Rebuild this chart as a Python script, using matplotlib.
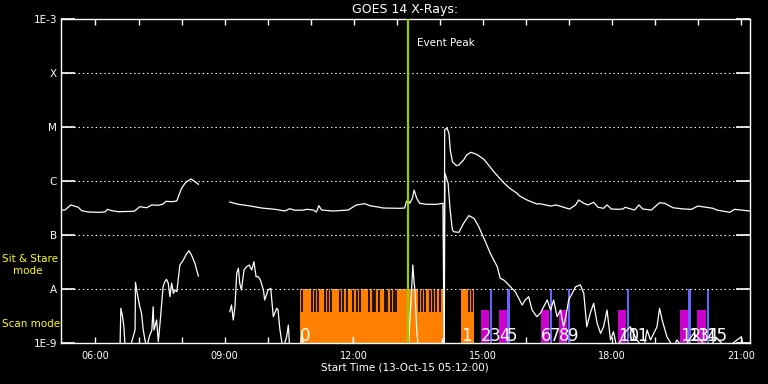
import numpy as np
import matplotlib
matplotlib.use("Agg")
import matplotlib.pyplot as plt
from matplotlib.ticker import FixedLocator, NullLocator

nan = np.nan

# ---- data (time in decimal hours UT, flux in W/m^2) ----
long_time = [5.20, 5.29, 5.43, 5.60, 5.68, 5.83, 6.07, 6.22, 6.28, 6.38, 6.53, 6.90,
             7.03, 7.19, 7.31, 7.46, 7.57, 7.64, 7.77, 7.89, 7.94, 8.00, 8.08, 8.15,
             8.22, 8.29, 8.39, 8.70,
             9.12, 9.32, 9.55, 9.86, 10.17, 10.40, 10.51, 10.63, 10.85, 10.90, 11.06,
             11.13, 11.19, 11.25, 11.52, 11.87, 12.06, 12.26, 12.37, 12.60, 12.68,
             13.07, 13.18, 13.22, 13.26, 13.30, 13.36, 13.40, 13.46, 13.53, 13.69,
             13.92, 14.07, 14.095, 14.11, 14.165, 14.21, 14.24, 14.29, 14.38, 14.44,
             14.46, 14.55, 14.62, 14.72, 14.85, 15.02, 15.16, 15.25, 15.39, 15.48,
             15.62, 15.79, 15.85, 16.02, 16.08, 16.25, 16.32, 16.57, 16.70, 16.95,
             17.01, 17.15, 17.22, 17.34, 17.44, 17.57, 17.67, 17.80, 17.88, 17.98,
             18.11, 18.25, 18.30, 18.52, 18.62, 18.71, 18.91, 19.10, 19.22, 19.41,
             19.66, 19.84, 19.99, 20.34, 20.43, 20.73, 20.84, 21.19]
long_flux = [2.9e-7, 2.9e-7, 3.6e-7, 3.26e-7, 2.82e-7, 2.67e-7, 2.63e-7, 2.67e-7, 2.99e-7,
             2.82e-7, 2.70e-7, 2.75e-7,
             3.34e-7, 3.2e-7, 3.6e-7, 3.55e-7, 3.75e-7, 4.21e-7, 4.14e-7, 4.26e-7,
             5.51e-7, 7.33e-7, 9.06e-7, 1.01e-6,
             1.09e-6, 1.0e-6, 8.7e-7, nan,
             4.08e-7, 3.7e-7, 3.49e-7, 3.16e-7, 2.99e-7, 2.78e-7, 3.07e-7, 2.87e-7,
             2.9e-7, 2.99e-7, 2.9e-7,
             2.67e-7, 3.49e-7, 2.9e-7, 2.78e-7, 2.9e-7, 3.6e-7, 3.8e-7, 3.49e-7,
             3.26e-7, 3.16e-7,
             3.12e-7, 3.16e-7, 4.14e-7, 4.45e-7, 3.86e-7, 4.79e-7, 6.81e-7, 4.79e-7,
             3.86e-7, 3.7e-7,
             3.7e-7, 3.86e-7, 8e-10, 9.0e-6, 9.46e-6, 7.64e-6, 3.75e-6, 2.27e-6,
             1.92e-6, 1.98e-6,
             2.07e-6, 2.45e-6, 3.03e-6, 3.40e-6, 3.12e-6, 2.52e-6, 1.84e-6, 1.49e-6,
             1.12e-6, 9.3e-7,
             7.33e-7, 5.92e-7, 5.28e-7, 4.45e-7, 4.26e-7, 3.75e-7, 3.8e-7, 3.44e-7,
             3.6e-7, 3.12e-7,
             3.03e-7, 3.6e-7, 4.45e-7, 3.86e-7, 3.6e-7, 4.03e-7, 3.26e-7, 3.12e-7,
             3.6e-7, 3.03e-7,
             2.99e-7, 3.03e-7, 3.26e-7, 2.9e-7, 3.6e-7, 3.03e-7, 2.9e-7, 3.96e-7,
             3.86e-7, 3.2e-7,
             3.03e-7, 2.99e-7, 3.44e-7, 3.12e-7, 2.9e-7, 2.63e-7, 2.99e-7, 2.78e-7]

short_time = [6.57, 6.59, 6.63, 6.66, 6.69, 6.80, 6.92, 6.93, 6.97, 7.03, 7.07, 7.11,
              7.15, 7.19, 7.25, 7.31, 7.34, 7.36, 7.42, 7.46, 7.50, 7.54, 7.57, 7.61,
              7.65, 7.69, 7.73, 7.77, 7.81, 7.85, 7.89, 7.92, 7.96, 8.04, 8.10, 8.17,
              8.23, 8.31, 8.35, 8.39, 8.70,
              9.12, 9.16, 9.20, 9.24, 9.28, 9.32, 9.35, 9.39, 9.45, 9.51, 9.57, 9.63,
              9.68, 9.73, 9.78, 9.83, 9.90, 9.93, 10.01, 10.07, 10.13, 10.21, 10.24,
              10.28, 10.32, 10.36, 10.44, 10.48, 10.51, 10.75, 10.80, 10.83, 11.98,
              11.99, 12.00, 13.27, 13.30, 13.33, 13.37, 13.40, 13.42, 13.46, 13.50,
              14.05, 14.06, 14.08, 14.10, 14.115, 14.19, 14.23, 14.27, 14.29, 14.32,
              14.44, 14.55, 14.67, 14.79, 14.90, 15.02, 15.17, 15.33, 15.40, 15.48,
              15.56, 15.67, 15.75, 15.83, 15.91, 15.98, 16.06, 16.14, 16.25, 16.33,
              16.41, 16.49, 16.57, 16.64, 16.72, 16.80, 16.87, 16.91, 16.99, 17.07,
              17.15, 17.26, 17.34, 17.41, 17.49, 17.57, 17.65, 17.73, 17.80, 17.88,
              17.96, 18.03, 18.11, 18.27, 18.42, 18.57, 18.73, 18.81, 18.89, 19.04,
              19.10, 19.16, 19.27, 19.43, 19.50, 19.66, 19.89, 20.05, 20.20, 20.43,
              20.66, 20.90, 21.00, 21.05, 21.19]
short_flux = [8e-10, 4.4e-9, 3.07e-9, 2.0e-9, 8e-10, 8e-10, 1.74e-9, 1.33e-8, 8.3e-9,
              4.7e-9, 3.55e-9, 1.74e-9,
              1.14e-9, 8e-10, 1.31e-9, 1.74e-9, 4.7e-9, 1.74e-9, 2.67e-9, 1.06e-9,
              2.32e-9, 5.82e-9, 1.10e-8, 1.36e-8,
              1.51e-8, 1.28e-8, 7.2e-9, 1.28e-8, 8.3e-9, 9.6e-9, 8.9e-9, 1.47e-8,
              2.78e-8, 3.44e-8, 4.26e-8, 5.12e-8,
              4.26e-8, 2.99e-8, 2.25e-8, 1.74e-8, nan,
              3.8e-9, 5.05e-9, 2.67e-9, 4.7e-9, 1.95e-8, 2.42e-8, 1.28e-8, 9.6e-9,
              2.25e-8, 2.59e-8, 2.78e-8, 2.25e-8,
              3.2e-8, 1.69e-8, 1.69e-8, 1.47e-8, 9.6e-9, 6.26e-9, 9.6e-9, 1.03e-8,
              3.07e-9, 4.4e-9, 4.08e-9,
              1.87e-9, 1.14e-9, 8e-10, 1.31e-9, 2.15e-9, 8e-10, 8e-10, 1.6e-9, 8e-10,
              8e-10,
              1.29e-9, 8e-10, 8e-10, 2.67e-9, 6.26e-9, 2.78e-8, 1.3e-8, 9.6e-9, 1.74e-9,
              8e-10,
              8e-10, 1.2e-9, 8e-10, 8e-10, 1.39e-6, 9.06e-7, 3.34e-7, 1.65e-7, 1.24e-7,
              1.15e-7,
              1.12e-7, 1.65e-7, 2.28e-7, 2.04e-7, 1.43e-7, 8.7e-8, 4.58e-8, 2.59e-8,
              1.58e-8, 1.47e-8,
              1.28e-8, 1.03e-8, 8.9e-9, 6.73e-9, 5.05e-9, 6.26e-9, 7.2e-9, 4.08e-9,
              3.07e-9, 3.55e-9,
              4.7e-9, 6.26e-9, 4.08e-9, 6.26e-9, 3.07e-9, 4.08e-9, 2.0e-9, 2.67e-9,
              6.26e-9, 8.3e-9,
              1.10e-8, 1.19e-8, 8.3e-9, 2.0e-9, 3.55e-9, 5.43e-9, 2.32e-9, 1.51e-9,
              2.0e-9, 4.08e-9,
              1.14e-9, 1.62e-9, 8e-10, 1.51e-9, 2.0e-9, 1.14e-9, 8e-10, 1.74e-9, 1.14e-9,
              2.0e-9,
              4.4e-9, 2.67e-9, 1.31e-9, 8e-10, 1.14e-9, 8e-10, 1.51e-9, 1.14e-9, 8e-10,
              1.22e-9,
              8e-10, 1.14e-9, 1.31e-9, 8e-10, 8e-10]

# Sit & Stare (orange) observing windows
stare_start = [10.75, 14.50]
stare_end = [14.065, 14.79]
# gaps inside the Sit & Stare windows
stare_gaps = [10.79, 11.03, 11.09, 11.16, 11.32, 11.40, 11.47, 11.69, 11.75, 11.84,
              11.98, 12.07, 12.14, 12.36, 12.44, 12.50, 12.58, 12.73, 12.76, 12.87,
              12.93, 12.99, 13.52, 13.59, 13.66, 13.76, 13.83, 13.90, 13.99, 14.67, 14.74]
# scan-mode rasters
scan_start = [14.95, 15.16, 15.37, 15.56, 16.34, 16.55, 16.76, 16.97, 18.13, 18.34,
              19.57, 19.77, 19.98, 20.19]
scan_end = [15.14, 15.22, 15.56, 15.63, 16.53, 16.61, 16.95, 17.03, 18.31, 18.40,
            19.76, 19.84, 20.17, 20.25]
scan_kind = ['m', 'b', 'm', 'b', 'm', 'b', 'm', 'b', 'm', 'b', 'm', 'b', 'm', 'b']

event_peak = 13.25
level_A = 1e-8
scan_top = 4.1e-9
gap_bottom = 3.7e-9
floor = 1e-9

ytick_vals = [1e-9, 1e-8, 1e-7, 1e-6, 1e-5, 1e-4, 1e-3]
ytick_labels = ['1E-9', 'A', 'B', 'C', 'M', 'X', '1E-3']
grid_levels = [1e-8, 1e-7, 1e-6, 1e-5, 1e-4]
xtick_major = [6, 9, 12, 15, 18, 21]
xtick_labels = ['06:00', '09:00', '12:00', '15:00', '18:00', '21:00']
xtick_minor = [6, 7, 8, 9, 10, 11, 12, 13, 14, 15, 16, 17, 18, 19, 20, 21]

ORANGE = '#ff8000'
MAGENTA = '#cc00cc'
BLUE = '#6464ff'
GREEN = '#99cc00'

fig = plt.figure(figsize=(7.68, 3.84), dpi=100, facecolor='black')
ax = fig.add_axes([61 / 768, 41 / 384, 689 / 768, 324 / 384])
ax.set_facecolor('black')
ax.set_yscale('log')
ax.set_xlim(5.2, 21.2)
ax.set_ylim(1e-9, 1e-3)

# orange sit & stare windows
for s, e in zip(stare_start, stare_end):
    ax.bar(s, level_A - floor, bottom=floor, width=e - s, align='edge',
           color=ORANGE, linewidth=0, zorder=2)
ax.vlines(stare_gaps, gap_bottom, level_A, color='black', linewidth=1.2, zorder=3)

# scan boxes
for s, e, k in zip(scan_start, scan_end, scan_kind):
    top = scan_top if k == 'm' else level_A
    ax.bar(s, top - floor, bottom=floor, width=e - s, align='edge',
           color=MAGENTA if k == 'm' else BLUE, linewidth=0, zorder=2)

# dotted grid
for lev in grid_levels:
    ax.axhline(lev, color='white', linewidth=0.8, linestyle=(0, (1.25, 2.6)), zorder=4)

# curves
ax.plot(long_time, long_flux, color='white', linewidth=0.9, zorder=5)
ax.plot(short_time, short_flux, color='white', linewidth=0.9, zorder=5)

# event peak
ax.axvline(event_peak, color=GREEN, linewidth=1.6, zorder=6)
ax.text(event_peak + 0.22, 3.6e-4, 'Event Peak', color='white', fontsize=7.5,
        va='center', ha='left', zorder=7)

# index labels
label_x = [stare_start[0], stare_start[1]] + scan_start
for i, x in enumerate(label_x):
    ax.text(x, 1.09e-9, str(i), color='white', fontsize=12, ha='left',
            va='baseline', zorder=7)

# axes styling
for sp in ax.spines.values():
    sp.set_color('white')
    sp.set_linewidth(1.0)
ax.yaxis.set_major_locator(FixedLocator(ytick_vals))
ax.yaxis.set_minor_locator(NullLocator())
ax.set_yticklabels(ytick_labels)
ax.xaxis.set_major_locator(FixedLocator(xtick_major))
ax.xaxis.set_minor_locator(FixedLocator(xtick_minor))
ax.set_xticklabels(xtick_labels)
ax.tick_params(axis='y', which='major', direction='in', length=10, width=1.2,
               colors='white', right=True, labelsize=7.5, pad=3)
ax.tick_params(axis='x', which='both', direction='in', length=4.5, width=1,
               colors='white', top=True, labelsize=7, pad=6)

fig.text(405 / 768, 1 - 10 / 384, 'GOES 14 X-Rays:', ha='center', va='center',
         color='white', fontsize=9)
fig.text(405 / 768, 1 - 368 / 384, 'Start Time (13-Oct-15 05:12:00)', ha='center',
         va='center', color='white', fontsize=7.5)
fig.text(2 / 768, 1 - 259 / 384, 'Sit & Stare', ha='left', va='center',
         color='yellow', fontsize=7.5)
fig.text(13 / 768, 1 - 271 / 384, 'mode', ha='left', va='center',
         color='yellow', fontsize=7.5)
fig.text(2 / 768, 1 - 324 / 384, 'Scan mode', ha='left', va='center',
         color='yellow', fontsize=7.5)

fig.savefig('out.png', dpi=100, facecolor='black')
